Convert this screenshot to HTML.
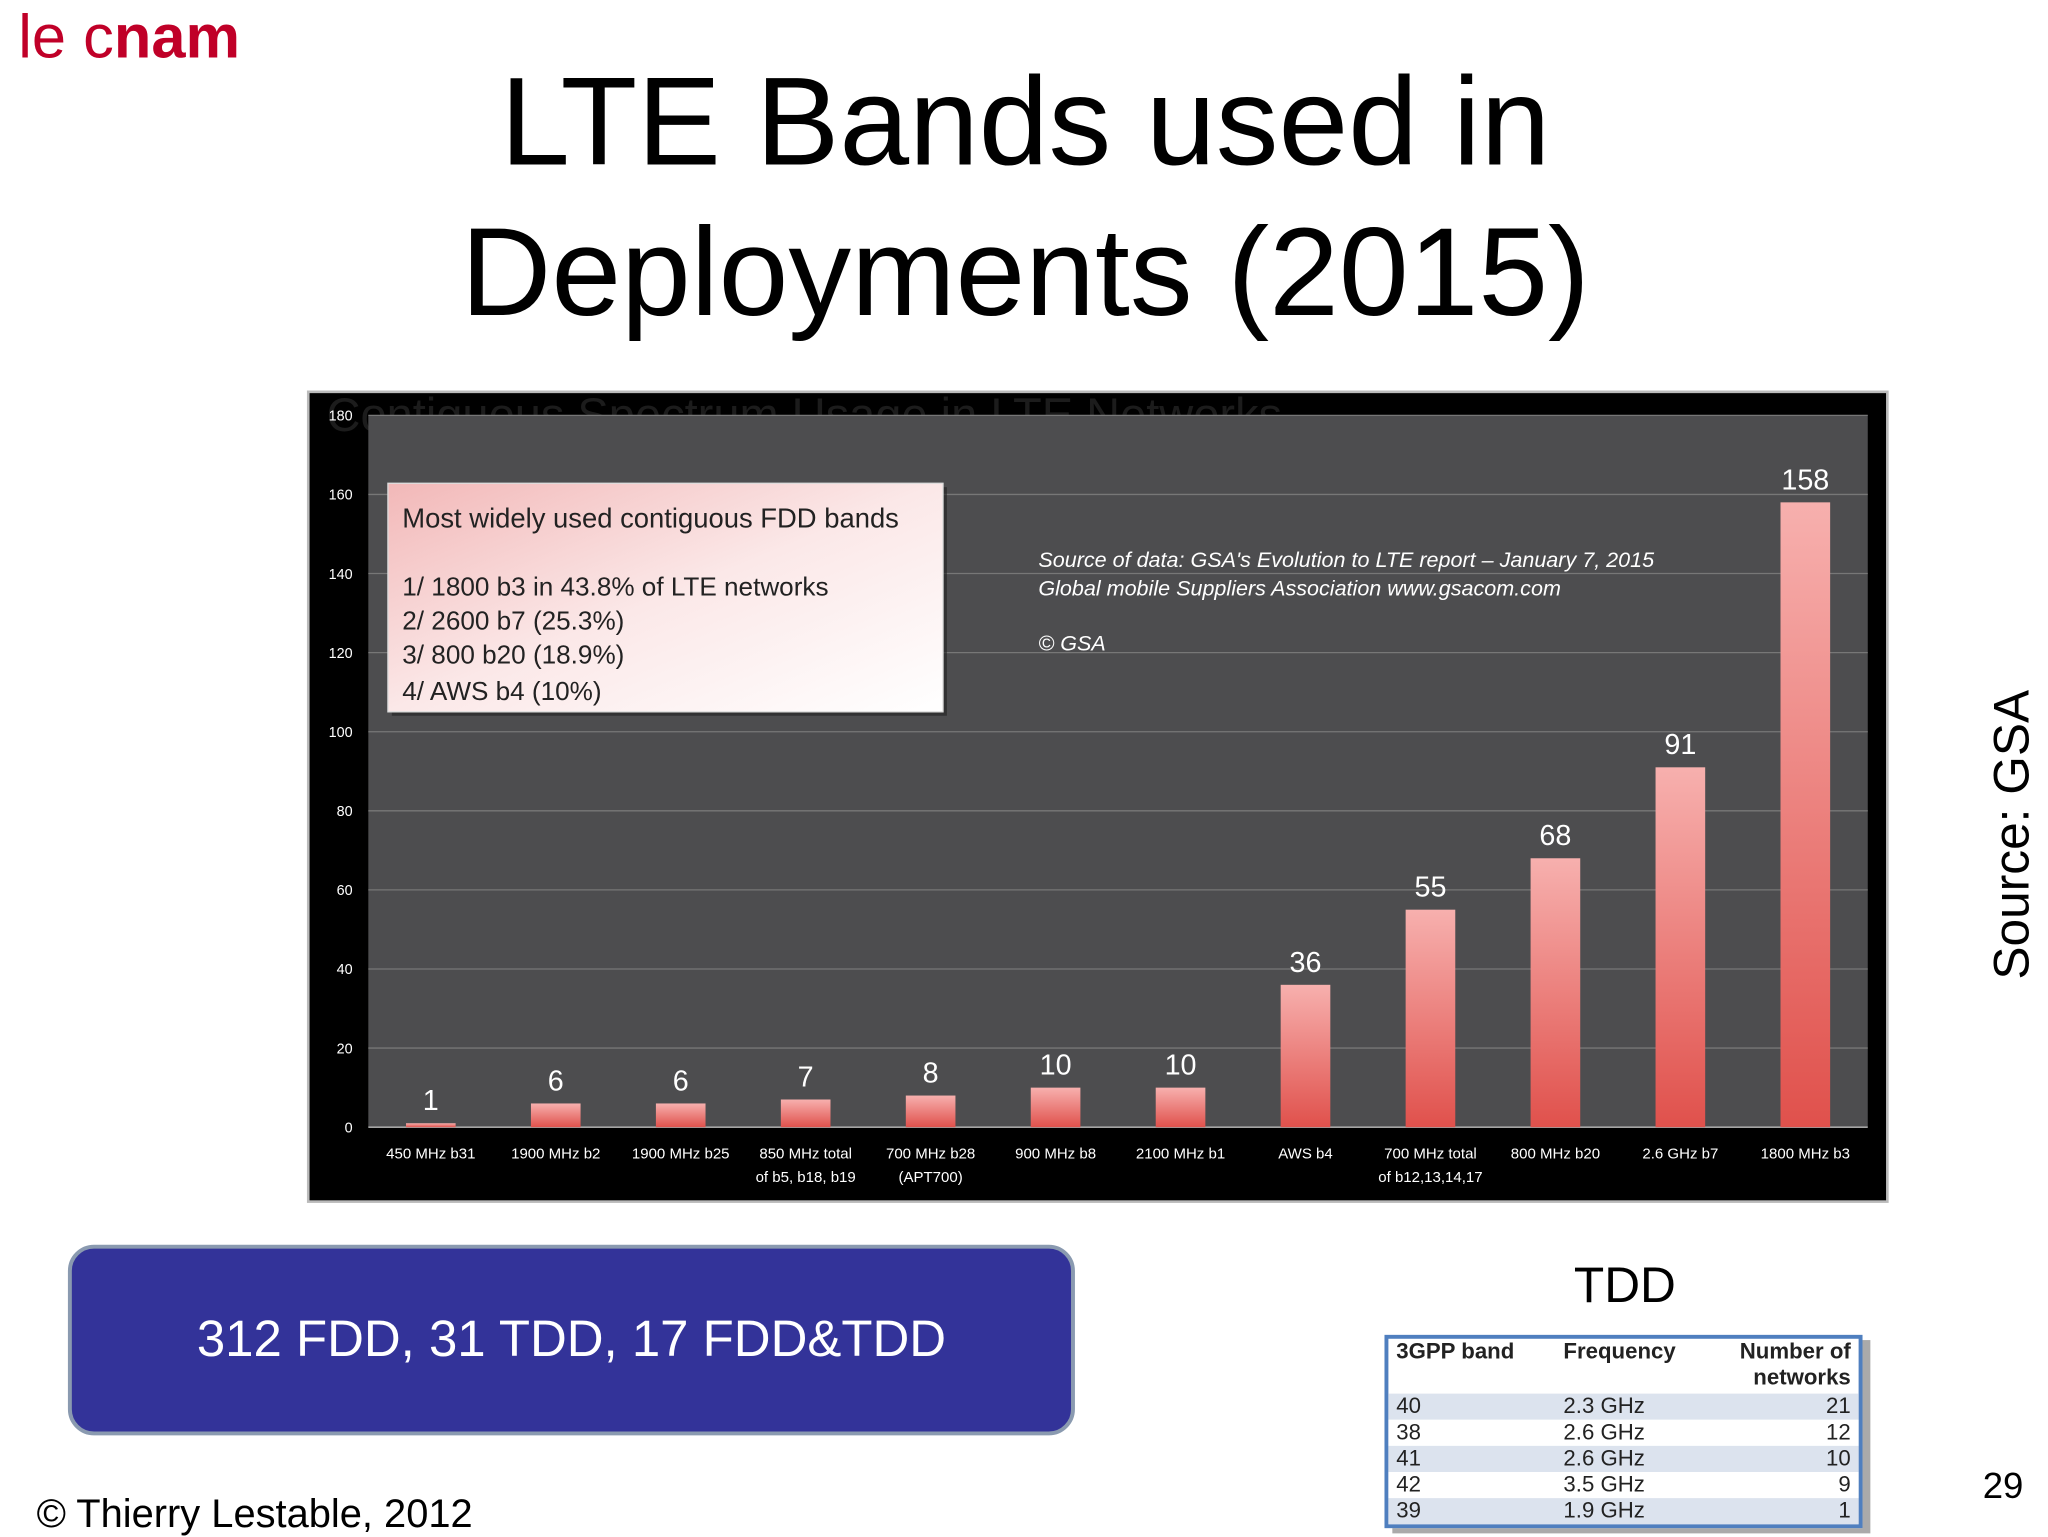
<!DOCTYPE html>
<html><head><meta charset="utf-8">
<style>
html,body{margin:0;padding:0;background:#fff;overflow:hidden}
#root{position:absolute;left:0;top:0;width:1568px;height:1176px;transform:scale(1.30612);transform-origin:0 0;font-family:"Liberation Sans",sans-serif}
.abs{position:absolute}
</style></head><body>
<div id="root">
  <div class="abs" style="left:14px;top:0px;font-size:47px;color:#c00028;white-space:nowrap"><span>le c</span><span style="font-weight:bold">nam</span></div>
  <div class="abs" style="left:270px;top:36px;width:1030px;text-align:center;font-size:96px;line-height:115px;color:#000">LTE Bands used in<br>Deployments (2015)</div>

  <svg class="abs" style="left:0;top:0" width="1568" height="1176">
    <defs>
      <linearGradient id="barg" x1="0" x2="0" y1="0" y2="1"><stop offset="0" stop-color="#f7b0ae"/><stop offset="1" stop-color="#e0514c"/></linearGradient>
      <linearGradient id="boxg" x1="0" x2="1" y1="0" y2="1"><stop offset="0" stop-color="#f2b8b8"/><stop offset="0.5" stop-color="#fbe8e8"/><stop offset="1" stop-color="#ffffff"/></linearGradient>
      <clipPath id="fc"><rect x="236" y="300" width="1209" height="620"/></clipPath>
    </defs>
    <rect x="236" y="300" width="1209" height="620" fill="#000" stroke="#bbb" stroke-width="2"/>
    <text x="250" y="330" font-size="36" fill="#1c1c1c" clip-path="url(#fc)">Contiguous Spectrum Usage in LTE Networks</text>
    <rect x="282" y="318" width="1148" height="545" fill="#4d4d4f"/>
    <g id="grid"></g>
    <g id="bars"></g>
    <g id="labels"></g>
    <g>
      <rect x="300" y="373" width="425" height="175" fill="#222" opacity="0.6"/>
      <rect x="297" y="370" width="425" height="175" fill="url(#boxg)" stroke="#ddd"/>
      <text x="308" y="404" font-size="21" fill="#222">Most widely used contiguous FDD bands</text>
      <text x="308" y="456" font-size="20" fill="#222">1/ 1800 b3 in 43.8% of LTE networks</text>
      <text x="308" y="482" font-size="20" fill="#222">2/ 2600 b7 (25.3%)</text>
      <text x="308" y="508" font-size="20" fill="#222">3/   800 b20 (18.9%)</text>
      <text x="308" y="536" font-size="20" fill="#222">4/ AWS b4 (10%)</text>
    </g>
    <g font-style="italic" font-size="16.5" fill="#fff">
      <text x="795" y="434">Source of data: GSA's Evolution to LTE report – January 7, 2015</text>
      <text x="795" y="456">Global mobile Suppliers Association www.gsacom.com</text>
      <text x="795" y="498">© GSA</text>
    </g>
  </svg>

  <div class="abs" style="left:52px;top:953px;width:765px;height:140px;background:#333399;border:3px solid #8a9ab0;border-radius:20px;color:#fff;font-size:39px;text-align:center;line-height:140px">312 FDD, 31 TDD, 17 FDD&amp;TDD</div>
  <div class="abs" style="left:1205px;top:964px;font-size:38px;color:#000">TDD</div>
  <div class="abs" style="left:1060px;top:1022px;width:360px;height:142px;border:3px solid #4f7fbf;box-shadow:6px 4px 0 #aaa;background:#fff;font-size:17px;color:#222">
    <div style="display:flex;height:42px;padding:0 6px;font-weight:bold;line-height:20px"><div style="width:128px">3GPP band</div><div style="width:110px">Frequency</div><div style="flex:1;text-align:right">Number of<br>networks</div></div>
    <div id="rows"></div>
  </div>
  <div class="abs" style="left:1520px;top:750px;transform:rotate(-90deg);transform-origin:0 0;font-size:38px;white-space:nowrap;line-height:42px">Source: GSA</div>
  <div class="abs" style="left:1518px;top:1122px;font-size:28px">29</div>
  <div class="abs" style="left:28px;top:1142px;font-size:30.5px;white-space:nowrap">© Thierry Lestable, 2012</div>
</div>
<script>
const categories=["450 MHz b31","1900 MHz b2","1900 MHz b25","850 MHz total|of b5, b18, b19","700 MHz b28|(APT700)","900 MHz b8","2100 MHz b1","AWS b4","700 MHz total|of b12,13,14,17","800 MHz b20","2.6 GHz b7","1800 MHz b3"];
const values=[1,6,6,7,8,10,10,36,55,68,91,158];
const yTicks=[0,20,40,60,80,100,120,140,160,180];
const tddBands=["40","38","41","42","39"];
const tddFreq=["2.3 GHz","2.6 GHz","2.6 GHz","3.5 GHz","1.9 GHz"];
const tddCount=[21,12,10,9,1];

const NS="http://www.w3.org/2000/svg";
const x0=282,bw=95.67,yb=863,yt=318,ymax=180;
const y=v=>yb-(v/ymax)*(yb-yt);
const xc=i=>x0+bw*i+bw/2;
function mk(t,a,p){const e=document.createElementNS(NS,t);for(const k in a)e.setAttribute(k,a[k]);p.appendChild(e);return e;}
const grid=document.getElementById('grid'),bars=document.getElementById('bars'),labels=document.getElementById('labels');
yTicks.forEach(t=>{
  const l=mk('line',{x1:x0,x2:1430,y1:y(t),y2:y(t),stroke:t===0?'#bbb':'#777','stroke-width':1},grid);
  
  
  const tx=mk('text',{x:270,y:y(t)+4,'font-size':11,fill:'#fff','text-anchor':'end'},grid);
  tx.textContent=t;
  
  
});
categories.forEach((c,i)=>{
  const b=mk('rect',{x:xc(i)-19,y:y(values[i]),width:38,height:yb-y(values[i]),fill:'url(#barg)'},bars);
  
  
  const v=mk('text',{x:xc(i),y:y(values[i])-10,'font-size':22,fill:'#fff','text-anchor':'middle'},labels);
  v.textContent=values[i];
  
  
  c.split('|').forEach((ln,k)=>{
    const t=mk('text',{x:xc(i),y:887+k*18,'font-size':11.5,fill:'#fff','text-anchor':'middle'},labels);
    t.textContent=ln;
    
    
  });
});
const rows=document.getElementById('rows');
tddBands.forEach((b,i)=>{
  const r=document.createElement('div');
  
  
  r.style.cssText='display:flex;height:20px;line-height:20px;padding:0 6px;background:'+(i%2===0?'#dce3ee':'#fff');
  r.innerHTML='<div style="width:128px">'+b+'</div><div style="width:110px">'+tddFreq[i]+'</div><div style="flex:1;text-align:right">'+tddCount[i]+'</div>';
  rows.appendChild(r);
});
</script>
</body></html>
